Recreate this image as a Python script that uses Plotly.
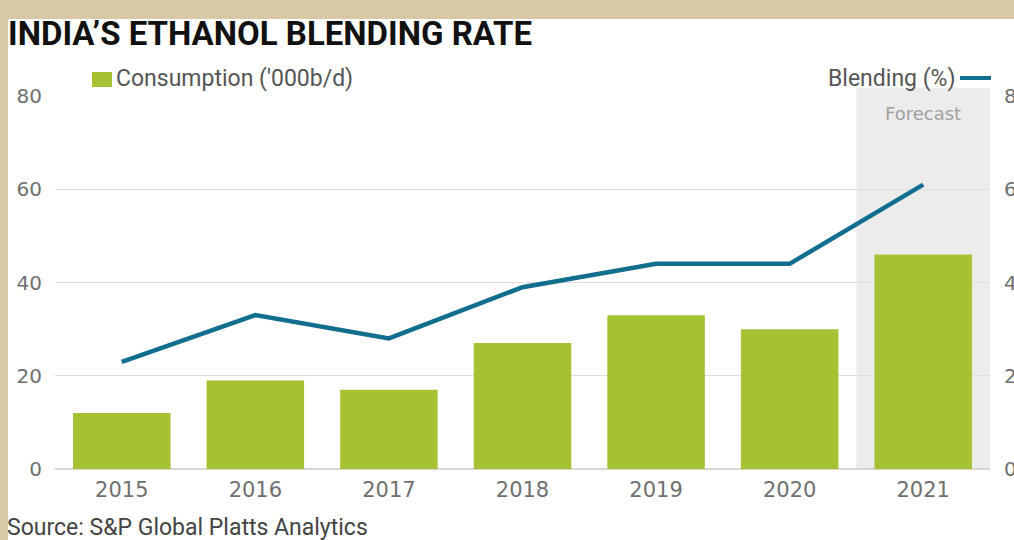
import plotly.graph_objects as go

years = ["2015", "2016", "2017", "2018", "2019", "2020", "2021"]
consumption = [12, 19, 17, 27, 33, 30, 46]          # '000 b/d
blending = [2.3, 3.3, 2.8, 3.9, 4.4, 4.4, 6.1]      # %
left_ticks = [0, 20, 40, 60, 80]
right_ticks = [0, 2, 4, 6, 8]

W, H = 1014, 540
L, R, T, B = 55, 24, 96, 71
PW, PH = W - L - R, H - T - B


def px(x):
    return (x - L) / PW


def py(y):
    return (H - B - y) / PH


GREEN = "#a5c232"
TEAL = "#126e8f"
TXT = "#555555"
FONT = "DejaVu Sans"
COND = "Roboto"

fig = go.Figure()
fig.add_trace(go.Bar(x=years, y=consumption, marker=dict(color=GREEN, line=dict(width=0)),
                     width=0.73, name="Consumption ('000b/d)", showlegend=False))
fig.add_trace(go.Scatter(x=years, y=blending, yaxis="y2", mode="lines",
                         line=dict(color=TEAL, width=4.5), name="Blending (%)", showlegend=False))

shapes = [
    # white card over beige background
    dict(type="rect", xref="paper", yref="paper", x0=px(8), x1=px(W + 5), y0=py(H + 5), y1=py(19),
         fillcolor="white", line=dict(width=0), layer="below"),
    # forecast band
    dict(type="rect", xref="x", yref="paper", x0=5.5, x1=6.5, y0=0, y1=py(88),
         fillcolor="#ececec", line=dict(width=0), layer="below"),
    # legend swatches
    dict(type="rect", xref="paper", yref="paper", x0=px(92), x1=px(112), y0=py(87), y1=py(72),
         fillcolor=GREEN, line=dict(width=0)),
    dict(type="line", xref="paper", yref="paper", x0=px(960), x1=px(991), y0=py(78), y1=py(78),
         line=dict(color=TEAL, width=4)),
]

annotations = [
    dict(text="<b>INDIA’S ETHANOL BLENDING RATE</b>", xref="paper", yref="paper", x=px(6), y=py(33),
         xanchor="left", yanchor="middle", showarrow=False,
         font=dict(family=COND, size=33, color="#111111")),
    dict(text="Consumption ('000b/d)", xref="paper", yref="paper", x=px(114), y=py(79),
         xanchor="left", yanchor="middle", showarrow=False, font=dict(family=COND, size=23, color=TXT)),
    dict(text="Blending (%)", xref="paper", yref="paper", x=px(957), y=py(79),
         xanchor="right", yanchor="middle", showarrow=False, font=dict(family=COND, size=23, color=TXT)),
    dict(text="Forecast", xref="x", yref="paper", x=6.0, y=py(113),
         xanchor="center", yanchor="middle", showarrow=False, font=dict(family=FONT, size=18, color="#a0a0a0")),
    dict(text="Source: S&P Global Platts Analytics", xref="paper", yref="paper", x=px(5), y=py(527),
         xanchor="left", yanchor="middle", showarrow=False, font=dict(family=COND, size=23, color="#444444")),
]

fig.update_layout(
    width=W, height=H,
    margin=dict(l=L, r=R, t=T, b=B, pad=0, autoexpand=False),
    paper_bgcolor="#d8c8a6",
    plot_bgcolor="rgba(0,0,0,0)",
    shapes=shapes,
    annotations=annotations,
    xaxis=dict(type="category", range=[-0.5, 6.5], showgrid=False, showline=False, ticks="",
               automargin=False,
               tickfont=dict(family=FONT, size=21, color="#707070"), ticklabelstandoff=6),
    yaxis=dict(range=[0, 80], tickvals=left_ticks, showgrid=True, gridcolor="#dedede", gridwidth=1.2,
               zeroline=True, zerolinecolor="#d6d6d6", zerolinewidth=1.5, showline=False, ticks="",
               automargin=False,
               tickfont=dict(family=FONT, size=20, color="#707070"), ticklabelstandoff=12),
    yaxis2=dict(range=[0, 8], tickvals=right_ticks, overlaying="y", side="right", showgrid=False,
                zeroline=False, showline=False, ticks="", automargin=False,
                tickfont=dict(family=FONT, size=20, color="#707070"), ticklabelstandoff=13),
)

fig.write_html("out.html", config=dict(displayModeBar=False),
               post_script="document.body.style.margin='0';document.body.style.overflow='hidden';")
